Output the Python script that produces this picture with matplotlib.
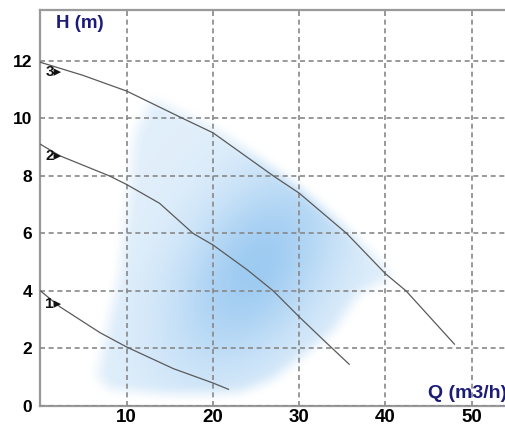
import numpy as np
import matplotlib.pyplot as plt
from matplotlib.path import Path

# pump curves (Q in m3/h, H in m)
q3 = [0, 4.9, 10, 16.5, 20, 27, 30, 35.5, 40, 42.4, 48]
h3 = [11.95, 11.5, 10.95, 10.0, 9.5, 8.0, 7.4, 6.0, 4.6, 4.0, 2.15]
q2 = [0, 2.25, 8, 10, 13.8, 17.7, 20, 24, 27, 30, 33, 35.8]
h2 = [9.1, 8.7, 8.0, 7.7, 7.05, 6.0, 5.6, 4.73, 4.0, 3.1, 2.24, 1.45]
q1 = [0, 2.25, 6.9, 10, 15.4, 20, 21.8]
h1 = [4.0, 3.45, 2.55, 2.05, 1.3, 0.8, 0.58]
speed_labels = ["1", "2", "3"]
label_h = [3.55, 8.7, 11.6]

# outline of the shaded working area
area_q = [6.6, 7.8, 9.2, 9.8, 11.0, 13.0, 16.5, 20, 25, 30, 35, 38.5, 40.8,
          37, 33.9, 27, 23.1, 15, 8.0]
area_h = [1.0, 2.76, 4.5, 6.2, 9.5, 10.7, 10.2, 9.7, 8.7, 7.6, 6.3, 5.3, 4.5,
          3.9, 2.53, 0.9, 0.44, 0.4, 0.56]

xticks = [10, 20, 30, 40, 50]
yticks = [0, 2, 4, 6, 8, 10, 12]

plt.rcParams['font.family'] = ['Liberation Sans', 'DejaVu Sans']

fig = plt.figure(figsize=(5.06, 4.28), dpi=100)
ax = fig.add_axes([40.5 / 506, 22 / 428, 470 / 506, 396 / 428])
xmax, ymax = 54.5, 13.77
ax.set_xlim(0, xmax)
ax.set_ylim(0, ymax)

# soft blue cloud
nx, ny = 420, 320
gx = np.linspace(0, xmax, nx)
gy = np.linspace(0, ymax, ny)
X, Y = np.meshgrid(gx, gy)
poly = Path(np.column_stack([area_q, area_h]))
mask = poly.contains_points(np.column_stack([X.ravel(), Y.ravel()])).reshape(ny, nx).astype(float)


def box_blur(a, kx, ky):
    kx_ = np.ones(kx) / kx
    ky_ = np.ones(ky) / ky
    a = np.apply_along_axis(lambda r: np.convolve(r, kx_, mode='same'), 1, a)
    a = np.apply_along_axis(lambda c: np.convolve(c, ky_, mode='same'), 0, a)
    return a


soft = box_blur(box_blur(mask, 13, 11), 9, 7)
# brighter along the diagonal band from lower-left to upper-right
u = (X - 25) / 14 + (Y - 4.8) / 5.0
v = (X - 25) / 14 - (Y - 4.8) / 5.0
weight = 0.3 + 0.7 * np.exp(-(u / 1.2) ** 2 - (v / 0.75) ** 2)
alpha = np.clip(soft * weight * 0.64, 0, 1)
rgba = np.zeros((ny, nx, 4))
rgba[..., 0] = 0.40
rgba[..., 1] = 0.68
rgba[..., 2] = 0.92
rgba[..., 3] = alpha
ax.imshow(rgba, extent=[0, xmax, 0, ymax], origin='lower', aspect='auto',
          interpolation='bilinear', zorder=1)

# grid
ax.set_xticks(xticks)
ax.set_yticks(yticks)
ax.grid(True, color='#888888', linestyle=(0, (3, 2.2)), linewidth=1.2, zorder=2)
ax.set_axisbelow(False)

# curves
for q, h in [(q1, h1), (q2, h2), (q3, h3)]:
    ax.plot(q, h, color='#5a5a5a', linewidth=0.9, zorder=3)

for lab, hy in zip(speed_labels, label_h):
    ax.text(0.55, hy, lab + "\u25b8", fontsize=11, fontweight='bold', color='#111111',
            va='center', ha='left', zorder=4)

ax.text(4.6, 13.29, "H (m)", fontsize=13.5, fontweight='bold', color='#1c1c78',
        ha='center', va='center')
ax.text(54.1, 0.45, "Q (m3/h)", fontsize=14, fontweight='bold', color='#1c1c78',
        ha='right', va='center', zorder=4)

ax.tick_params(length=0)
ax.tick_params(axis='x', labelsize=13.5, pad=2)
ax.tick_params(axis='y', labelsize=12.5, pad=6)
for t in ax.get_xticklabels() + ax.get_yticklabels():
    t.set_fontweight('bold')

for side in ['left', 'top', 'bottom']:
    ax.spines[side].set_color('#9a9a9a')
    ax.spines[side].set_linewidth(1.6)
ax.spines['right'].set_visible(False)

fig.savefig('out.png', dpi=100)
